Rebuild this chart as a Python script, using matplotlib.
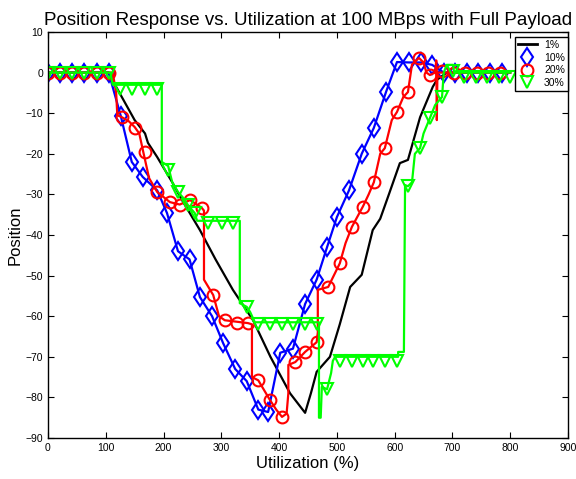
import numpy as np
import matplotlib
matplotlib.use("Agg")
import matplotlib.pyplot as plt
from matplotlib.lines import Line2D

plt.rcParams['font.family'] = ['Liberation Sans', 'DejaVu Sans']

# 1% load: plain black line
p1_x = [0, 105, 116, 150, 168, 173, 189, 215, 232, 263, 290, 320, 355, 385, 419, 445,
        455, 465, 488, 505, 523, 543, 562, 575, 590, 609, 623, 644, 666, 673, 690, 800]
p1_y = [0, 0, -3, -11.7, -15, -17.3, -20.8, -27, -31.4, -38.8, -46, -53.5, -61, -70, -79, -83.8,
        -79, -73.7, -70, -62, -52.8, -49.8, -38.8, -36, -30, -22.3, -21.5, -11, -3.5, -1.8, 0, 0]

# 10% load: diamonds
p10_x = [0, 21, 42, 63, 84, 105, 126, 145, 164, 189, 206, 225, 245, 263, 284, 303, 324, 344,
         364, 381, 402, 424, 445, 465, 483, 500, 521, 543, 564, 585, 604, 625, 646, 665, 685,
         705, 725, 745, 765, 785]
p10_y = [0, 0, 0, 0, 0, 0, -10.7, -22, -25.7, -29, -34.6, -44, -46, -55.3, -60, -66.6, -73, -76,
         -83, -83.6, -69, -68, -57, -51, -43, -35.6, -29, -20, -13.6, -4.8, 2.6, 2.5, 2.5, 1.9, 0,
         0, 0, 0, 0, 0]

# 20% load: line trace and circle samples
p20_x = [0, 112, 118, 120, 128, 140, 150, 158, 165, 175, 189, 211, 228, 246, 266, 270, 270,
         286, 296, 306, 346, 353, 353, 364, 384, 395, 405, 413, 416, 416, 428, 445, 465, 467,
         467, 485, 505, 515, 526, 545, 555, 564, 575, 583, 595, 604, 615, 623, 630, 642, 650,
         655, 661, 670, 672, 673, 674, 800]
p20_y = [0, 0, -5, -10.5, -11, -12, -13.4, -15, -19.6, -26, -29.4, -31.9, -32.5, -31.4, -33.3,
         -34, -51, -54.8, -60, -61, -61.7, -62, -75, -75.8, -80.6, -83, -84.8, -84, -79, -72,
         -71.3, -68.8, -66.4, -64, -53.5, -52.8, -47, -42, -38, -33, -30, -27, -20, -18.6, -11.7,
         -9.7, -6, -4.8, 2, 3.6, 2.5, 0, -0.6, 0, 3, -11.7, 0, 0]
p20_mx = [0, 21, 42, 63, 84, 105, 128, 150, 168, 189, 211, 228, 246, 266, 286, 306, 327, 346,
          364, 384, 405, 428, 445, 465, 485, 505, 526, 545, 564, 583, 604, 623, 642, 661, 682,
          702, 722, 742, 762, 782]
p20_my = [0, 0, 0, 0, 0, 0, -11, -13.6, -19.6, -29.4, -31.9, -32.5, -31.4, -33.3, -54.8, -61,
          -61.7, -61.7, -75.8, -80.6, -84.8, -71.3, -68.8, -66.4, -52.8, -47, -38, -33, -27,
          -18.6, -9.7, -4.8, 3.6, -0.6, 0.5, 0, 0, 0, 0, 0]

# 30% load: line trace and triangle samples
p30_x = [0, 108, 112, 197, 197, 208, 215, 225, 235, 242, 254, 258, 332, 332, 344, 350, 358,
         469, 469, 472, 474, 483, 490, 493, 497, 606, 606, 616, 618, 623, 630, 635, 644, 650,
         661, 670, 682, 685, 690, 701, 703, 800]
p30_y = [0, 0, -3, -3, -22, -23, -27, -29.4, -31, -32.6, -34.6, -36.5, -36.5, -56.8, -57.7,
         -59, -61.5, -61.5, -85, -85, -77.4, -78, -74, -71, -70, -70, -68.8, -68.8, -27.7, -28,
         -27, -20, -18.6, -15, -11.2, -8, -6, 0, 1.9, 1.9, 0, 0]
p30_mx = [0, 21, 42, 63, 84, 105, 125, 145, 168, 189, 208, 225, 242, 254, 277, 301, 320, 344,
          363, 384, 405, 424, 445, 466, 483, 505, 526, 545, 562, 583, 604, 623, 644, 661, 682,
          701, 720, 740, 760, 780, 800]
p30_my = [0, 0, 0, 0, 0, 0, -4, -4, -4, -4, -24, -29.4, -32.6, -34.6, -37, -37, -37, -57.7,
          -62, -62, -62, -62, -62, -62, -78, -71, -71, -71, -71, -71, -71, -28, -18.6, -11.2,
          -6, 0.5, -1, -1, -1, -1, -1]

labels = ['1%', '10%', '20%', '30%']

fig = plt.figure(figsize=(5.76, 4.79), dpi=100)
ax = fig.add_axes([0.0833, 0.0856, 0.9028, 0.8476])

lw = 1.6
mew = 1.5
ax.plot(p1_x, p1_y, color='k', lw=lw)
ax.plot(p10_x, p10_y, color='b', lw=lw, marker='d', ms=9.5, mfc='none', mew=mew)
ax.plot(p20_x, p20_y, color='r', lw=lw)
ax.plot(p20_mx, p20_my, ls='none', color='r', marker='o', ms=8.5, mfc='none', mew=mew)
ax.plot(p30_x, p30_y, color='#00ff00', lw=lw)
ax.plot(p30_mx, p30_my, ls='none', color='#00ff00', marker='v', ms=9, mfc='none', mew=mew)

ax.set_xlim(0, 900)
ax.set_ylim(-90, 10)
ax.set_xticks(np.arange(0, 901, 100))
ax.set_yticks(np.arange(-90, 11, 10))
ax.tick_params(direction='in', top=True, right=True, length=4, labelsize=7.5, width=0.8)
for s in ax.spines.values():
    s.set_linewidth(1.0)

ax.set_title('Position Response vs. Utilization at 100 MBps with Full Payload', fontsize=13.5, pad=5)
ax.set_xlabel('Utilization (%)', fontsize=12, labelpad=2)
ax.set_ylabel('Position', fontsize=12, labelpad=2)

handles = [
    Line2D([], [], color='k', lw=2),
    Line2D([], [], ls='none', color='b', marker='d', ms=9.5, mfc='none', mew=mew),
    Line2D([], [], ls='none', color='r', marker='o', ms=8.5, mfc='none', mew=mew),
    Line2D([], [], ls='none', color='#00ff00', marker='v', ms=9, mfc='none', mew=mew),
]
leg = ax.legend(handles, labels, loc='upper right', bbox_to_anchor=(1.0, 1 - 5 / 406),
                borderaxespad=0, fontsize=7.5, frameon=True, fancybox=False,
                handlelength=1.8, handletextpad=0.7, labelspacing=0.25, borderpad=0.3)
leg.get_frame().set_edgecolor('k')
leg.get_frame().set_linewidth(1.0)
leg.get_frame().set_alpha(1)

fig.savefig('out.png', dpi=100)
